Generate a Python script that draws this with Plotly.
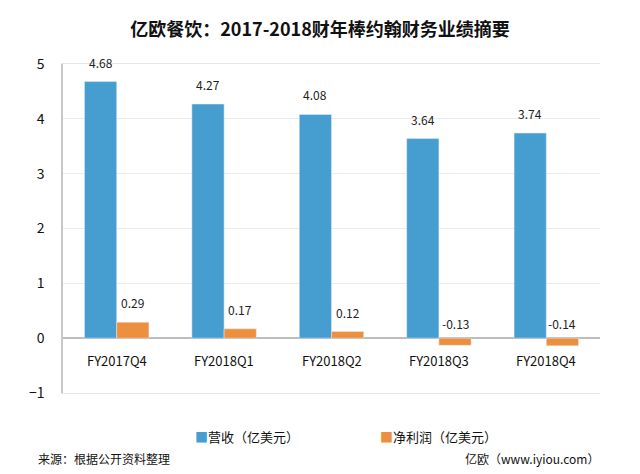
import plotly.graph_objects as go

quarters = ["FY2017Q4", "FY2018Q1", "FY2018Q2", "FY2018Q3", "FY2018Q4"]
revenue = [4.68, 4.27, 4.08, 3.64, 3.74]
net_profit = [0.29, 0.17, 0.12, -0.13, -0.14]
y_ticks = [-1, 0, 1, 2, 3, 4, 5]
series_names = ["营收（亿美元）", "净利润（亿美元）"]

BLUE = "#469ed0"
ORANGE = "#ec8f3e"
FONT = "Noto Sans CJK SC"

W, H = 640, 474
L, R, T, B = 63, 40, 64, 81
plot_w = W - L - R
plot_h = H - T - B
bar_px = plot_w / len(quarters) * 0.3

fig = go.Figure()
fig.add_trace(go.Bar(x=quarters, y=revenue, name=series_names[0], showlegend=False,
                     marker=dict(color=BLUE), width=0.3, offset=-0.3))
fig.add_trace(go.Bar(x=quarters, y=net_profit, name=series_names[1], showlegend=False,
                     marker=dict(color=ORANGE), width=0.3, offset=0))

annotations = []
# value labels
for q, v in zip(quarters, revenue):
    annotations.append(dict(x=q, y=v, text=f"{v:.2f}", showarrow=False,
                            xshift=-bar_px / 2, yanchor="bottom", yshift=9,
                            font=dict(size=12, color="#222")))
for q, v in zip(quarters, net_profit):
    annotations.append(dict(x=q, y=max(v, 0), text=f"{v:.2f}", showarrow=False,
                            xshift=bar_px / 2, yanchor="bottom",
                            yshift=9 if v > 0 else 4,
                            font=dict(size=12, color="#222")))
# category labels just under the zero line
for q in quarters:
    annotations.append(dict(x=q, y=0, text=q, showarrow=False, yanchor="top",
                            yshift=-11, font=dict(size=13, color="#111")))

# legend and footer, positioned in pixels then converted to paper coords
footer = []
for name, color, xpos in zip(series_names, [BLUE, ORANGE], [193, 378]):
    footer.append(dict(x=xpos, y=437, xanchor="left",
                       text=f'<span style="color:{color}">■</span>{name}',
                       font=dict(size=13, color="#111")))
footer.append(dict(x=36, y=458, text="来源：根据公开资料整理", xanchor="left",
                   font=dict(size=12, color="#111")))
footer.append(dict(x=601, y=458, text="亿欧（www.iyiou.com）", xanchor="right",
                   font=dict(size=12, color="#111")))
for a in footer:
    a.update(xref="paper", yref="paper", yanchor="middle", showarrow=False,
             x=(a["x"] - L) / plot_w, y=(H - B - a["y"]) / plot_h)
    annotations.append(a)

fig.update_layout(
    width=W, height=H,
    margin=dict(l=L, r=R, t=T, b=B, autoexpand=False),
    paper_bgcolor="white", plot_bgcolor="white",
    font=dict(family=FONT, color="#111"),
    title=dict(text="<b>亿欧餐饮：2017-2018财年棒约翰财务业绩摘要</b>",
               x=0.5, xanchor="center", y=1 - 30 / H, yanchor="middle",
               font=dict(size=18, color="#111")),
    barmode="group",
    showlegend=False,
    annotations=annotations,
)
fig.update_xaxes(showticklabels=False, showline=True, mirror=True, linecolor="#e6e6e6",
                 linewidth=1, showgrid=False, zeroline=False, automargin=False)
fig.update_yaxes(range=[-1, 5], tickvals=y_ticks, showgrid=True, gridcolor="#ebebeb",
                 zeroline=True, zerolinecolor="#bdbdbd", zerolinewidth=1.5,
                 showline=True, linecolor="#c8c8c8", linewidth=1.5, automargin=False,
                 ticks="", ticklabelstandoff=14, tickfont=dict(size=14, color="#111"))

fig.write_html("out.html", config={"displayModeBar": False},
               post_script="document.body.style.margin='0';")
